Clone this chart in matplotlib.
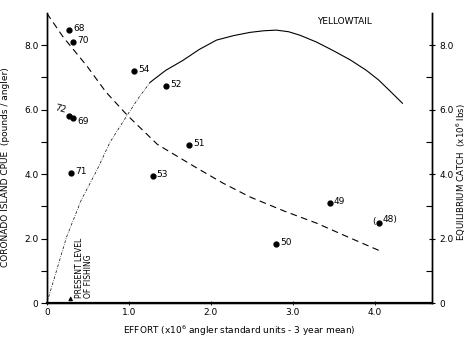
import matplotlib
matplotlib.use("Agg")
import matplotlib.pyplot as plt

# Observed CPUE points (effort x10^6 angler units, pounds/angler) with year labels
years = ["68", "70", "54", "52", "72", "69", "71", "53", "51", "49", "48", "50"]
effort = [0.27, 0.32, 1.06, 1.45, 0.27, 0.32, 0.30, 1.29, 1.74, 3.45, 4.05, 2.80]
cpue = [8.47, 8.09, 7.19, 6.73, 5.80, 5.74, 4.03, 3.94, 4.90, 3.10, 2.48, 1.83]

# Fitted CPUE curve (dashed)
cpue_fit_x = [0.0, 0.20, 0.49, 0.72, 0.98, 1.35, 1.83, 2.15, 2.48, 2.90, 3.29, 3.70, 4.10]
cpue_fit_y = [8.99, 8.25, 7.35, 6.55, 5.83, 4.92, 4.19, 3.72, 3.29, 2.85, 2.48, 2.02, 1.58]

# Equilibrium catch curve: dash-dot extrapolated part and solid part
catch_dd_x = [0.0, 0.24, 0.42, 0.61, 0.77, 0.98, 1.12, 1.26]
catch_dd_y = [0.0, 2.05, 3.20, 4.12, 4.99, 5.83, 6.37, 6.85]
catch_x = [1.26, 1.45, 1.66, 1.86, 2.07, 2.28, 2.48, 2.65, 2.80, 2.95, 3.09, 3.29,
           3.49, 3.70, 3.90, 4.05, 4.18, 4.34]
catch_y = [6.85, 7.22, 7.53, 7.87, 8.16, 8.30, 8.40, 8.45, 8.47, 8.42, 8.31, 8.10,
           7.84, 7.55, 7.22, 6.92, 6.60, 6.20]

present_effort = 0.29

xticks = [0, 1, 2, 3, 4]
xticklabels = ["0", "1.0", "2.0", "3.0", "4.0"]
yticks = [0, 2, 4, 6, 8]
yticklabels = ["0", "2.0", "4.0", "6.0", "8.0"]

plt.rcParams['font.family'] = ['DejaVu Sans']
fig = plt.figure(figsize=(4.69, 3.43), dpi=100)
ax = fig.add_axes([0.100, 0.1166, 0.821, 0.8454])
ax2 = ax.twinx()

ax.set_xlim(0, 4.7)
ax.set_ylim(0, 9.0)
ax2.set_ylim(0, 9.0)

for a in (ax, ax2):
    a.spines['top'].set_visible(False)
    for s in a.spines.values():
        s.set_linewidth(1.0)
ax.spines['bottom'].set_linewidth(1.6)

ax.plot(effort, cpue, 'o', color='black', markersize=3.5)
for yr, x, y in zip(years, effort, cpue):
    if yr == "72":
        ax.text(x - 0.03, y + 0.05, yr, fontsize=6.5, ha='right', va='bottom', rotation=-15)
    elif yr == "69":
        ax.text(x + 0.05, y - 0.1, yr, fontsize=6.5, ha='left', va='center')
    elif yr == "48":
        ax.text(x - 0.03, y + 0.05, "(", fontsize=6.5, ha='right', va='center')
        ax.text(x + 0.05, y + 0.1, yr + ")", fontsize=6.5, ha='left', va='center')
    else:
        ax.text(x + 0.05, y + 0.05, yr, fontsize=6.5, ha='left', va='center')

ax.plot(cpue_fit_x, cpue_fit_y, color='black', lw=0.8, dashes=(6, 4))
ax2.plot(catch_dd_x, catch_dd_y, color='black', lw=0.5, dashes=(4, 2, 1, 2))
ax2.plot(catch_x, catch_y, color='black', lw=0.8)

ax.annotate("", xy=(present_effort, 0.3), xytext=(present_effort, 0.0),
            arrowprops=dict(arrowstyle='-|>', color='black', lw=0.8, mutation_scale=6))
ax.text(present_effort + 0.05, 0.15, "PRESENT LEVEL\nOF FISHING", rotation=90,
        fontsize=5.5, ha='left', va='bottom', linespacing=1.0)

ax.text(3.30, 8.75, "YELLOWTAIL", fontsize=6.5, ha='left', va='center')

ax.set_xticks(xticks)
ax.set_xticklabels(xticklabels)
ax.set_yticks(yticks)
ax.set_yticklabels(yticklabels)
ax.set_yticks([1, 3, 5, 7], minor=True)
ax2.set_yticks(yticks)
ax2.set_yticklabels(yticklabels)
ax2.set_yticks([1, 3, 5, 7], minor=True)

ax.tick_params(axis='x', direction='inout', length=3, width=0.6, labelsize=6.5, pad=2)
ax.tick_params(axis='y', which='major', direction='out', length=4, width=0.8, labelsize=6.5, pad=2)
ax.tick_params(axis='y', which='minor', direction='out', length=4, width=0.8)
ax2.tick_params(axis='y', which='major', direction='inout', length=5, width=0.8, labelsize=6.5, pad=3)
ax2.tick_params(axis='y', which='minor', direction='in', length=4, width=0.8)

ax.set_xlabel("EFFORT (x10$^6$ angler standard units - 3 year mean)", fontsize=6.5, labelpad=5)
ax.set_ylabel("CORONADO ISLAND CPUE  (pounds / angler)", fontsize=6.5)
ax.yaxis.set_label_coords(-0.095, 0.47)
ax2.set_ylabel("EQUILIBRIUM CATCH  (x10$^6$ lbs)", fontsize=6.2, rotation=90, va='center')
ax2.yaxis.set_label_coords(1.075, 0.45)

fig.savefig("out.png", dpi=100)
